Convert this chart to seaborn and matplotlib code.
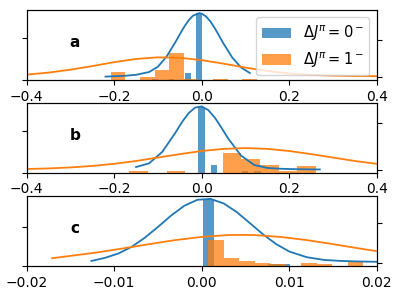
import numpy as np
import pandas as pd
import matplotlib
matplotlib.use("Agg")
import matplotlib.pyplot as plt
from matplotlib.patches import Patch
import seaborn as sns

BLUE = "#1f77b4"
ORANGE = "#ff7f0e"
ALPHA = 0.75
labels = [r"$\Delta J^{\pi} = 0^-$", r"$\Delta J^{\pi} = 1^-$"]
panel_names = ["a", "b", "c"]

# ---------------- panel a ----------------
a_blue_edges = [-0.1125, -0.1, -0.0875, -0.075, -0.0625, -0.05, -0.0375, -0.025, -0.0125, 0.0]
a_blue_heights = [1.5, 0, 0, 1.5, 0, 0, 6.7, 0, 66.7]
a_orange_edges = [-0.208, -0.1746, -0.1412, -0.1078, -0.0744, -0.041, -0.0076, 0.0258, 0.0592, 0.0926, 0.126]
a_orange_heights = [8.3, 0, 2.7, 10, 26.7, 1.3, 0, 1.3, 0, 1.3]
a_blue_curve_x = [-0.22, -0.18, -0.15, -0.12, -0.10, -0.08, -0.06, -0.05, -0.04, -0.03, -0.02, -0.006,
                  0.0, 0.01, 0.02, 0.03, 0.04, 0.05, 0.07, 0.09, 0.11]
a_blue_curve_y = [0.2, 0.9, 2.0, 4.8, 10.1, 20.3, 34.6, 42.4, 49.8, 56.2, 60.9, 63.4,
                  62.9, 60.1, 55.1, 48.4, 40.8, 33.0, 19.1, 9.3, 3.8]
a_orange_curve_x = [-0.45, -0.4, -0.35, -0.3, -0.25, -0.2, -0.15, -0.1, -0.05, 0.0,
                    0.05, 0.1, 0.15, 0.2, 0.25, 0.3, 0.35, 0.4, 0.45]
a_orange_curve_y = [1.05, 2.2, 4.2, 7.1, 10.7, 14.6, 17.8, 19.4, 19.0, 16.6,
                    13.1, 9.2, 5.8, 3.3, 1.9, 1.2, 0.8, 0.6, 0.4]

# ---------------- panel b ----------------
b_blue_edges = [-0.0075, 0.0067, 0.0209, 0.0351, 0.0493, 0.0635, 0.0777, 0.0919, 0.1061, 0.1203, 0.1345]
b_blue_heights = [66, 0, 7.7, 0, 0, 0, 0, 1.5, 0, 1.5]
b_orange_edges = [-0.1655, -0.1228, -0.0801, -0.0374, 0.0053, 0.048, 0.0907, 0.1334, 0.1761, 0.2188, 0.2615]
b_orange_heights = [1.3, 0, 1.3, 0, 0, 19.4, 13.4, 7.7, 2, 6.7]
b_blue_curve_x = [-0.15, -0.12, -0.09, -0.06, -0.045, -0.03, -0.015, 0.0, 0.015, 0.03, 0.045,
                  0.06, 0.09, 0.12, 0.15, 0.18, 0.21, 0.24, 0.27]
b_blue_curve_y = [2.5, 6.2, 17.6, 36.6, 47.1, 55.9, 61.5, 62.6, 59.0, 51.5, 41.6,
                  31.1, 13.8, 4.5, 1.6, 0.8, 0.4, 0.2, 0.1]
b_orange_curve_x = [-0.45, -0.4, -0.35, -0.3, -0.25, -0.2, -0.15, -0.1, -0.05, 0.0,
                    0.05, 0.1, 0.15, 0.2, 0.25, 0.3, 0.35, 0.4, 0.45]
b_orange_curve_y = [0.26, 0.55, 1.1, 2.1, 3.6, 5.7, 8.5, 11.9, 15.3, 18.4,
                    20.5, 21.3, 20.5, 18.4, 15.3, 11.9, 8.5, 5.7, 3.6]

# ---------------- panel c ----------------
c_blue_edges = [0.0001, 0.00135, 0.0076, 0.00885, 0.0101]
c_blue_heights = [66, 0, 2, 2]
c_orange_edges = [0.00076, 0.00253, 0.0043, 0.00607, 0.00784, 0.00961, 0.01138, 0.01315, 0.01492, 0.01669, 0.01846]
c_orange_heights = [26, 7.7, 5, 3.3, 2, 0, 3, 2, 0, 4.7]
c_blue_curve_x = [-0.0126, -0.011, -0.0095, -0.008, -0.0065, -0.005, -0.0035, -0.002, -0.0005, 0.001,
                  0.0025, 0.004, 0.0055, 0.007, 0.0085, 0.010, 0.012, 0.014, 0.016, 0.018, 0.020, 0.022]
c_blue_curve_y = [1.8, 5.0, 9.2, 15.7, 24.6, 35.2, 46.3, 55.9, 61.8, 62.7,
                  58.3, 49.8, 39.0, 28.0, 18.4, 11.1, 5.5, 2.8, 1.8, 1.3, 1.0, 0.8]
c_orange_curve_x = [-0.0171, -0.015, -0.012, -0.009, -0.006, -0.003, 0.0, 0.003, 0.0045, 0.006,
                    0.009, 0.012, 0.015, 0.018, 0.021, 0.024]
c_orange_curve_y = [4.5, 6.8, 10.1, 14.1, 18.3, 22.3, 25.4, 27.2, 27.4, 27.2,
                    25.4, 22.3, 18.3, 14.1, 10.1, 6.9]

panels = [
    dict(be=a_blue_edges, bh=a_blue_heights, oe=a_orange_edges, oh=a_orange_heights,
         bcx=a_blue_curve_x, bcy=a_blue_curve_y, ocx=a_orange_curve_x, ocy=a_orange_curve_y,
         xlim=(-0.4, 0.4), xticks=[-0.4, -0.2, 0.0, 0.2, 0.4], ltick=41.7, rtick=36.7),
    dict(be=b_blue_edges, bh=b_blue_heights, oe=b_orange_edges, oh=b_orange_heights,
         bcx=b_blue_curve_x, bcy=b_blue_curve_y, ocx=b_orange_curve_x, ocy=b_orange_curve_y,
         xlim=(-0.4, 0.4), xticks=[-0.4, -0.2, 0.0, 0.2, 0.4], ltick=41.7, rtick=46.6),
    dict(be=c_blue_edges, bh=c_blue_heights, oe=c_orange_edges, oh=c_orange_heights,
         bcx=c_blue_curve_x, bcy=c_blue_curve_y, ocx=c_orange_curve_x, ocy=c_orange_curve_y,
         xlim=(-0.02, 0.02), xticks=[-0.02, -0.01, 0.0, 0.01, 0.02], ltick=38.7, rtick=39.4),
]

fig = plt.figure(figsize=(3.99, 2.99), dpi=100)
rects = [
    (26.7 / 399, (299 - 80) / 299, 350 / 399, 70 / 299),
    (26.7 / 399, (299 - 172.7) / 299, 350 / 399, 69.4 / 299),
    (26.7 / 399, (299 - 266) / 299, 350 / 399, 70.3 / 299),
]

for i, (p, r) in enumerate(zip(panels, rects)):
    ax = fig.add_axes(r)
    for edges, heights, col in [(p["be"], p["bh"], BLUE), (p["oe"], p["oh"], ORANGE)]:
        e = [float(v) for v in edges]
        centers = [(e[k] + e[k + 1]) / 2 for k in range(len(e) - 1)]
        df = pd.DataFrame({"x": centers, "w": [float(h) for h in heights]})
        sns.histplot(data=df, x="x", weights="w", bins=e, ax=ax, color=col,
                     alpha=ALPHA, linewidth=0, edgecolor="none")
    ax.set_xlim(*p["xlim"])
    ax.set_xticks(p["xticks"])
    ax.set_xlabel("")
    ax.set_ylabel("")
    ax.set_yticks([0, p["ltick"]])
    ax.tick_params(labelleft=False, labelsize=10)

    ax2 = ax.twinx()
    sns.lineplot(x=p["bcx"], y=p["bcy"], ax=ax2, color=BLUE, lw=1.3)
    sns.lineplot(x=p["ocx"], y=p["ocy"], ax=ax2, color=ORANGE, lw=1.3)
    ymax = max(max(p["bcy"]), max(p["ocy"]))
    ax2.set_ylim(-0.05 * ymax, 1.05 * ymax)
    ax2.set_yticks([0, p["rtick"]])
    ax2.tick_params(labelright=False)
    ax2.set_xlim(*p["xlim"])

    ax.text(0.138, 0.53, panel_names[i], transform=ax.transAxes, fontsize=11,
            fontweight="bold", ha="center", va="center")

    if i == 0:
        handles = [Patch(facecolor=BLUE, alpha=ALPHA), Patch(facecolor=ORANGE, alpha=ALPHA)]
        ax2.legend(handles, labels, loc="upper right", fontsize=10.5)

fig.savefig("out.png", dpi=100)
